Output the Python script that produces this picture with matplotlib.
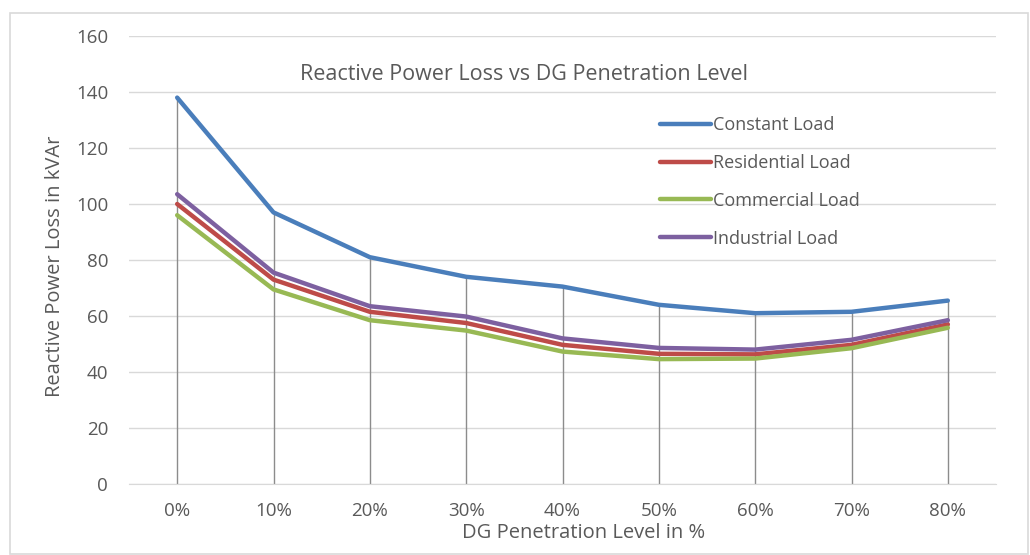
import matplotlib
matplotlib.use('Agg')
import matplotlib.pyplot as plt
from matplotlib.patches import Rectangle

plt.rcParams['font.family'] = ['Open Sans', 'DejaVu Sans']

# ── data ──
levels = ['0%', '10%', '20%', '30%', '40%', '50%', '60%', '70%', '80%']
constant_load = [138, 97, 81, 74, 70.5, 64, 61, 61.5, 65.5]
residential_load = [100, 73, 61.5, 57.5, 49.7, 46.5, 46.3, 49.7, 57]
commercial_load = [96, 69.5, 58.5, 54.8, 47.3, 44.6, 44.8, 48.5, 55.8]
industrial_load = [103.5, 75.5, 63.5, 59.8, 52, 48.6, 48, 51.5, 58.5]
y_ticks = [0, 20, 40, 60, 80, 100, 120, 140, 160]

SERIES = [
    ('Constant Load',    constant_load,    '#4A7EBB'),
    ('Residential Load', residential_load, '#BE4B48'),
    ('Commercial Load',  commercial_load,  '#98B954'),
    ('Industrial Load',  industrial_load,  '#7D60A0'),
]
TXT = '#595959'

W, H = 1030, 555
fig = plt.figure(figsize=(W / 100, H / 100), dpi=100)
fig.patch.set_facecolor('white')

# outer chart border
fig.add_artist(Rectangle((10 / W, 1 / H), 1018 / W, 541 / H,
                         transform=fig.transFigure, fill=False,
                         edgecolor='#D9D9D9', linewidth=1.2))

ax = fig.add_axes([129 / W, 1 - 484 / H, 867 / W, 448 / H])
x = list(range(len(levels)))

# drop lines from the highest series down to the axis
tops = [max(vals) for vals in zip(*[s[1] for s in SERIES])]
ax.vlines(x, 0, tops, color='#8C8C8C', linewidth=1, zorder=1)

for name, vals, col in SERIES:
    ax.plot(x, vals, color=col, linewidth=3.2, label=name,
            solid_capstyle='round', zorder=3)

ax.set_xlim(-0.5, len(levels) - 0.5)
ax.set_ylim(0, 160)
ax.set_xticks(x)
ax.set_xticklabels(levels)
ax.set_yticks(y_ticks)
ax.grid(axis='y', color='#D9D9D9', linewidth=1, zorder=0)
ax.set_axisbelow(True)
ax.tick_params(length=0, labelsize=13.5, colors=TXT)
ax.tick_params(axis='y', pad=15)
ax.tick_params(axis='x', pad=13)
for side in ['top', 'right', 'left']:
    ax.spines[side].set_visible(False)
ax.spines['bottom'].set_color('#D9D9D9')

fig.text(584 / W, 1 - 533 / H, 'DG Penetration Level in %', fontsize=14.5,
         color=TXT, ha='center', va='center')
fig.text(55 / W, 1 - 266 / H, 'Reactive Power Loss in kVAr', fontsize=14.5,
         color=TXT, ha='center', va='center', rotation=90)
fig.text(524 / W, 1 - 75 / H, 'Reactive Power Loss vs DG Penetration Level',
         fontsize=15.5, color=TXT, ha='center', va='center')

leg = fig.legend(*ax.get_legend_handles_labels(), loc='upper left',
                 bbox_to_anchor=(660 / W, 1 - 116 / H), frameon=False,
                 borderpad=0, borderaxespad=0,
                 fontsize=13, handlelength=2.8, handletextpad=0.15,
                 labelspacing=1.1, labelcolor=TXT)

plt.savefig('out.png', dpi=100, facecolor='white')
plt.close()
